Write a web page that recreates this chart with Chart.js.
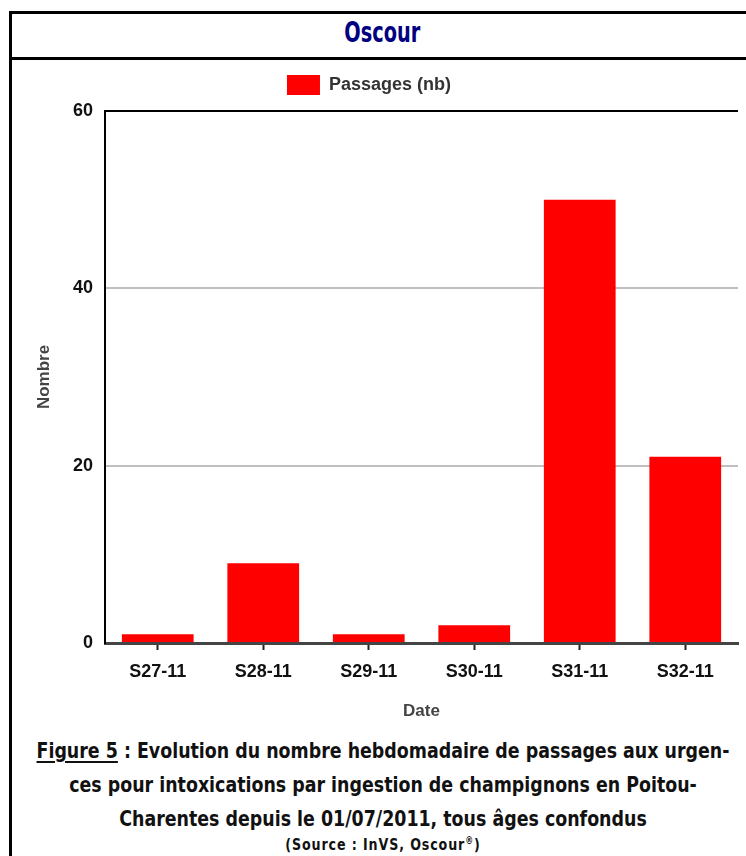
<!DOCTYPE html>
<html>
  <head>
    <meta http-equiv="content-type" content="text/html; charset=utf-8" />
    <title>Oscour</title>
    <style>
      body { margin: 0; width: 746px; height: 856px; overflow: hidden; background: #fff; position: relative; }
      #box { position: absolute; left: 9px; top: 11px; width: 746px; height: 900px; border: 3px solid #000; box-sizing: border-box; }
      #head { position: absolute; left: 9px; top: 11px; width: 746px; height: 49px; border-bottom: 3px solid #000; box-sizing: border-box;
        text-align: center; font: bold 29px "DejaVu Sans Condensed", sans-serif; color: #000080; line-height: 42px; }
      #head span { display: inline-block; transform: scaleX(0.74); }
      #area { position: absolute; left: 0; top: 60px; }
      #caption { position: absolute; left: -41px; top: 734px; width: 848px; text-align: center; transform: scaleX(0.88);
        font: bold 22px "DejaVu Sans Condensed", sans-serif; color: #111; line-height: 34px; }
      #caption u { text-decoration-thickness: 2px; text-underline-offset: 3px; }
      #source { font-size: 16px; line-height: 18px; letter-spacing: 1px; display: block; margin-top: -4px; }
    </style>
  </head>

  <body>
    <div id="box"></div>
    <div id="head"><span>Oscour</span></div>
    <canvas id="area" width="766" height="670"></canvas>
    <div id="caption">
      <u>Figure 5</u> : Evolution du nombre hebdomadaire de passages aux urgen-<br />
      ces pour intoxications par ingestion de champignons en Poitou-<br />
      Charentes depuis le 01/07/2011, tous âges confondus<br />
      <span id="source">(Source : InVS, Oscour<sup style="font-size:10px">®</sup>)</span>
    </div>
    <script src="https://cdn.jsdelivr.net/npm/chart.js@4/dist/chart.umd.min.js"></script>
    <script>
      const weeks = ["S27-11", "S28-11", "S29-11", "S30-11", "S31-11", "S32-11"];
      const passages = [1, 9, 1, 2, 50, 21];
      const yTicks = [0, 20, 40, 60];

      // leave a bit more room under the legend
      const legendGap = {
        id: "legendGap",
        beforeInit(chart) {
          const fit = chart.legend.fit;
          chart.legend.fit = function () {
            fit.call(this);
            this.height += 6;
          };
        },
      };

      new Chart("area", {
        type: "bar",
        data: {
          labels: weeks,
          datasets: [
            {
              label: "Passages (nb)",
              data: passages,
              backgroundColor: "#ff0000",
              borderWidth: 0,
              categoryPercentage: 1,
              barPercentage: 0.68,
            },
          ],
        },
        plugins: [legendGap],
        options: {
          responsive: false,
          animation: false,
          devicePixelRatio: 1,
          layout: { padding: { left: 0, right: 28, top: 1, bottom: 0 } },
          plugins: {
            legend: {
              labels: {
                boxWidth: 33,
                boxHeight: 20,
                padding: 14,
                color: "#333",
                font: { family: "Liberation Sans", size: 18, weight: "bold" },
              },
            },
            tooltip: { enabled: false },
          },
          scales: {
            x: {
              afterFit: (s) => { s.height = 87; },
              grid: { offset: false, drawOnChartArea: false, tickLength: 7, tickColor: "#222", tickWidth: 2 },
              border: { color: "#444", width: 3 },
              ticks: { color: "#111", padding: 11, font: { family: "Liberation Sans", size: 18, weight: "bold" } },
              title: { display: true, text: "Date", color: "#444", padding: { bottom: 8 }, font: { family: "Liberation Sans", size: 17, weight: "bold" } },
            },
            y: {
              min: 0,
              max: 60,
              afterFit: (s) => { s.width = 105; },
              afterBuildTicks: (s) => { s.ticks = yTicks.map((v) => ({ value: v })); },
              grid: {
                drawTicks: false,
                lineWidth: 2,
                color: (c) => (c.tick.value === 60 ? "#000" : c.tick.value === 0 ? "rgba(0,0,0,0)" : "#c0c0c0"),
              },
              border: { color: "#000", width: 2 },
              ticks: { color: "#111", padding: 12, font: { family: "Liberation Sans", size: 18, weight: "bold" } },
              title: { display: true, text: "Nombre", color: "#444", padding: { top: 34 }, font: { family: "Liberation Sans", size: 17, weight: "bold" } },
            },
          },
        },
      });
    </script>
  </body>
</html>
